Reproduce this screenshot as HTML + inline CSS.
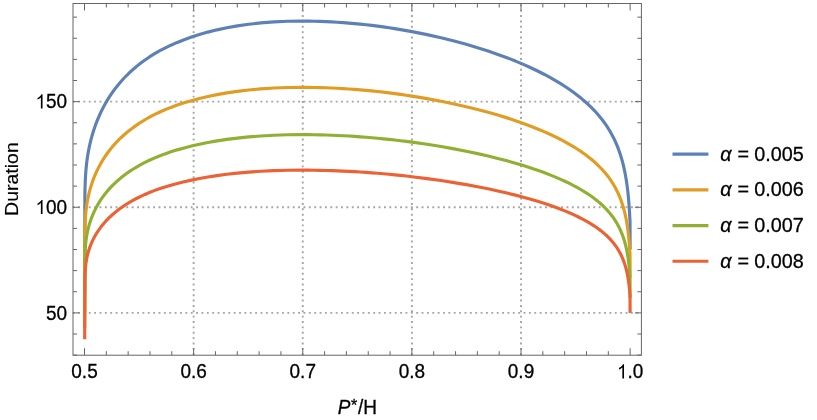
<!DOCTYPE html>
<html><head><meta charset="utf-8"><title>Duration plot</title>
<style>
html,body{margin:0;padding:0;background:#fff;}
body{width:817px;height:420px;overflow:hidden;}
svg{display:block;}
text{font-family:"Liberation Sans",sans-serif;font-size:19px;fill:#000;stroke:#000;stroke-width:0.3px;}
.curves path{fill:none;stroke-width:3.15;stroke-linejoin:round;stroke-linecap:butt;}
</style></head><body>
<svg width="817" height="420" viewBox="0 0 817 420">
<rect width="817" height="420" fill="#fff"/>
<path d="M193.63 355.20 V3.50 M302.76 355.20 V3.50 M411.89 355.20 V3.50 M521.02 355.20 V3.50 M72.65 312.88 H641.40 M72.65 207.25 H641.40 M72.65 101.63 H641.40" stroke="#a5a5a5" stroke-width="1.9" stroke-dasharray="1.9 3.468" fill="none"/>
<g class="curves">
<path d="M84.70 291.75 L84.88 195.21 L84.91 193.67 L84.94 192.16 L84.97 190.69 L85.01 189.25 L85.05 187.84 L85.09 186.46 L85.13 185.10 L85.18 183.76 L85.23 182.44 L85.28 181.14 L85.34 179.85 L85.40 178.58 L85.47 177.32 L85.54 176.06 L85.61 174.81 L85.70 173.56 L85.78 172.32 L85.88 171.07 L85.98 169.82 L86.09 168.56 L86.21 167.30 L86.34 166.03 L86.47 164.74 L86.62 163.45 L86.77 162.13 L86.94 160.80 L87.12 159.44 L87.32 158.07 L87.52 156.67 L87.75 155.24 L87.99 153.79 L88.25 152.30 L88.52 150.79 L88.82 149.24 L89.14 147.65 L89.48 146.03 L89.85 144.37 L90.25 142.67 L90.67 140.92 L91.13 139.13 L91.62 137.30 L92.14 135.42 L92.71 133.50 L93.31 131.52 L93.97 129.50 L94.67 127.42 L95.42 125.30 L96.22 123.12 L97.09 120.89 L98.02 118.60 L99.02 116.27 L100.10 113.87 L101.25 111.43 L102.49 108.93 L103.82 106.38 L105.25 103.77 L106.78 101.12 L108.43 98.41 L110.20 95.66 L112.10 92.86 L114.14 90.02 L116.33 87.14 L118.68 84.22 L121.21 81.26 L123.92 78.27 L126.84 75.26 L129.96 72.23 L133.33 69.18 L136.94 66.12 L140.81 63.06 L144.98 60.00 L149.45 56.95 L154.25 53.93 L159.41 50.96 L164.94 48.05 L170.89 45.20 L177.28 42.42 L184.14 39.71 L191.50 37.07 L199.42 34.52 L207.91 32.10 L217.04 29.84 L226.83 27.76 L237.36 25.90 L248.66 24.28 L260.80 22.94 L273.83 21.93 L287.83 21.30 L302.86 21.10 L308.61 21.14 L314.35 21.24 L320.10 21.40 L325.85 21.62 L331.59 21.90 L337.34 22.23 L343.08 22.62 L348.83 23.07 L354.58 23.58 L360.32 24.14 L366.07 24.76 L371.82 25.43 L377.56 26.16 L383.31 26.93 L389.05 27.76 L394.80 28.65 L400.55 29.59 L406.29 30.58 L412.04 31.63 L427.07 34.64 L441.07 37.79 L454.10 41.03 L466.24 44.34 L477.54 47.68 L488.07 51.03 L497.86 54.39 L506.99 57.74 L515.48 61.09 L523.40 64.42 L530.76 67.73 L537.62 71.00 L544.01 74.23 L549.96 77.42 L555.49 80.57 L560.65 83.68 L565.45 86.74 L569.92 89.77 L574.09 92.75 L577.96 95.69 L581.57 98.59 L584.94 101.46 L588.06 104.29 L590.98 107.08 L593.69 109.83 L596.22 112.55 L598.57 115.24 L600.76 117.90 L602.80 120.52 L604.70 123.11 L606.47 125.67 L608.12 128.21 L609.65 130.71 L611.08 133.18 L612.41 135.63 L613.65 138.05 L614.80 140.44 L615.88 142.81 L616.88 145.14 L617.81 147.45 L618.68 149.74 L619.48 152.00 L620.23 154.23 L620.93 156.43 L621.59 158.61 L622.19 160.76 L622.76 162.88 L623.28 164.98 L623.77 167.05 L624.23 169.09 L624.65 171.11 L625.05 173.09 L625.42 175.05 L625.76 176.97 L626.08 178.87 L626.38 180.74 L626.65 182.57 L626.91 184.38 L627.15 186.15 L627.38 187.90 L627.58 189.61 L627.78 191.28 L627.96 192.93 L628.13 194.53 L628.28 196.11 L628.43 197.64 L628.56 199.15 L628.69 200.61 L628.81 202.04 L628.92 203.43 L629.02 204.78 L629.12 206.09 L629.20 207.36 L629.29 208.59 L629.36 209.78 L629.43 210.93 L629.50 212.03 L629.56 213.09 L629.62 214.11 L629.67 215.08 L629.72 216.00 L629.77 216.88 L629.81 217.72 L629.85 218.50 L629.89 219.23 L629.93 219.92 L629.96 220.56 L629.99 221.14 L630.02 221.68 L630.10 249.50" stroke="#5e81b5"/>
<path d="M84.70 312.88 L84.88 232.42 L84.91 231.14 L84.94 229.89 L84.97 228.66 L85.01 227.46 L85.05 226.29 L85.09 225.13 L85.13 224.00 L85.18 222.88 L85.23 221.79 L85.28 220.70 L85.34 219.63 L85.40 218.57 L85.47 217.51 L85.54 216.47 L85.61 215.42 L85.70 214.39 L85.78 213.35 L85.88 212.31 L85.98 211.27 L86.09 210.22 L86.21 209.17 L86.34 208.11 L86.47 207.04 L86.62 205.95 L86.77 204.86 L86.94 203.75 L87.12 202.62 L87.32 201.47 L87.52 200.31 L87.75 199.12 L87.99 197.91 L88.25 196.67 L88.52 195.41 L88.82 194.11 L89.14 192.79 L89.48 191.44 L89.85 190.06 L90.25 188.64 L90.67 187.18 L91.13 185.70 L91.62 184.17 L92.14 182.60 L92.71 181.00 L93.31 179.35 L93.97 177.67 L94.67 175.94 L95.42 174.16 L96.22 172.35 L97.09 170.49 L98.02 168.59 L99.02 166.64 L100.10 164.65 L101.25 162.61 L102.49 160.53 L103.82 158.40 L105.25 156.23 L106.78 154.02 L108.43 151.76 L110.20 149.47 L112.10 147.13 L114.14 144.77 L116.33 142.36 L118.68 139.93 L121.21 137.47 L123.92 134.98 L126.84 132.47 L129.96 129.94 L133.33 127.40 L136.94 124.85 L140.81 122.30 L144.98 119.75 L149.45 117.21 L154.25 114.69 L159.41 112.22 L164.94 109.79 L170.89 107.41 L177.28 105.10 L184.14 102.84 L191.50 100.65 L199.42 98.52 L207.91 96.50 L217.04 94.61 L226.83 92.88 L237.36 91.33 L248.66 89.98 L260.80 88.86 L273.83 88.02 L287.83 87.50 L302.86 87.33 L308.61 87.37 L314.35 87.45 L320.10 87.59 L325.85 87.77 L331.59 88.00 L337.34 88.28 L343.08 88.60 L348.83 88.98 L354.58 89.40 L360.32 89.87 L366.07 90.38 L371.82 90.94 L377.56 91.55 L383.31 92.19 L389.05 92.89 L394.80 93.63 L400.55 94.41 L406.29 95.24 L412.04 96.11 L427.07 98.62 L441.07 101.24 L454.10 103.94 L466.24 106.70 L477.54 109.48 L488.07 112.28 L497.86 115.07 L506.99 117.87 L515.48 120.66 L523.40 123.44 L530.76 126.19 L537.62 128.92 L544.01 131.61 L549.96 134.27 L555.49 136.89 L560.65 139.48 L565.45 142.04 L569.92 144.56 L574.09 147.04 L577.96 149.49 L581.57 151.91 L584.94 154.30 L588.06 156.66 L590.98 158.98 L593.69 161.28 L596.22 163.54 L598.57 165.78 L600.76 168.00 L602.80 170.18 L604.70 172.34 L606.47 174.48 L608.12 176.59 L609.65 178.67 L611.08 180.74 L612.41 182.78 L613.65 184.79 L614.80 186.78 L615.88 188.75 L616.88 190.70 L617.81 192.63 L618.68 194.53 L619.48 196.41 L620.23 198.27 L620.93 200.11 L621.59 201.92 L622.19 203.72 L622.76 205.49 L623.28 207.23 L623.77 208.96 L624.23 210.66 L624.65 212.34 L625.05 213.99 L625.42 215.62 L625.76 217.23 L626.08 218.81 L626.38 220.36 L626.65 221.90 L626.91 223.40 L627.15 224.88 L627.38 226.33 L627.58 227.76 L627.78 229.15 L627.96 230.52 L628.13 231.86 L628.28 233.17 L628.43 234.45 L628.56 235.71 L628.69 236.93 L628.81 238.12 L628.92 239.27 L629.02 240.40 L629.12 241.49 L629.20 242.55 L629.29 243.58 L629.36 244.57 L629.43 245.52 L629.50 246.44 L629.56 247.33 L629.62 248.17 L629.67 248.98 L629.72 249.75 L629.77 250.49 L629.81 251.18 L629.85 251.83 L629.89 252.45 L629.93 253.02 L629.96 253.55 L629.99 254.03 L630.02 254.48 L630.10 277.67" stroke="#e19c24"/>
<path d="M84.70 327.96 L84.88 259.00 L84.91 257.91 L84.94 256.83 L84.97 255.78 L85.01 254.75 L85.05 253.75 L85.09 252.76 L85.13 251.79 L85.18 250.83 L85.23 249.89 L85.28 248.96 L85.34 248.04 L85.40 247.13 L85.47 246.23 L85.54 245.33 L85.61 244.44 L85.70 243.54 L85.78 242.65 L85.88 241.76 L85.98 240.87 L86.09 239.97 L86.21 239.07 L86.34 238.16 L86.47 237.25 L86.62 236.32 L86.77 235.38 L86.94 234.43 L87.12 233.46 L87.32 232.48 L87.52 231.48 L87.75 230.46 L87.99 229.42 L88.25 228.36 L88.52 227.28 L88.82 226.17 L89.14 225.04 L89.48 223.88 L89.85 222.69 L90.25 221.48 L90.67 220.23 L91.13 218.95 L91.62 217.64 L92.14 216.30 L92.71 214.93 L93.31 213.52 L93.97 212.07 L94.67 210.59 L95.42 209.07 L96.22 207.51 L97.09 205.92 L98.02 204.29 L99.02 202.62 L100.10 200.91 L101.25 199.16 L102.49 197.38 L103.82 195.56 L105.25 193.70 L106.78 191.80 L108.43 189.87 L110.20 187.90 L112.10 185.90 L114.14 183.87 L116.33 181.81 L118.68 179.73 L121.21 177.61 L123.92 175.48 L126.84 173.33 L129.96 171.16 L133.33 168.99 L136.94 166.80 L140.81 164.61 L144.98 162.43 L149.45 160.25 L154.25 158.09 L159.41 155.97 L164.94 153.89 L170.89 151.85 L177.28 149.87 L184.14 147.94 L191.50 146.05 L199.42 144.23 L207.91 142.50 L217.04 140.88 L226.83 139.40 L237.36 138.07 L248.66 136.91 L260.80 135.95 L273.83 135.23 L287.83 134.78 L302.86 134.64 L308.61 134.67 L314.35 134.74 L320.10 134.86 L325.85 135.01 L331.59 135.21 L337.34 135.45 L343.08 135.73 L348.83 136.05 L354.58 136.41 L360.32 136.81 L366.07 137.26 L371.82 137.74 L377.56 138.25 L383.31 138.81 L389.05 139.40 L394.80 140.04 L400.55 140.71 L406.29 141.42 L412.04 142.17 L427.07 144.31 L441.07 146.56 L454.10 148.88 L466.24 151.24 L477.54 153.63 L488.07 156.02 L497.86 158.42 L506.99 160.81 L515.48 163.21 L523.40 165.59 L530.76 167.95 L537.62 170.29 L544.01 172.59 L549.96 174.87 L555.49 177.12 L560.65 179.34 L565.45 181.53 L569.92 183.69 L574.09 185.82 L577.96 187.92 L581.57 190.00 L584.94 192.04 L588.06 194.06 L590.98 196.06 L593.69 198.02 L596.22 199.97 L598.57 201.89 L600.76 203.78 L602.80 205.66 L604.70 207.51 L606.47 209.34 L608.12 211.15 L609.65 212.94 L611.08 214.70 L612.41 216.45 L613.65 218.18 L614.80 219.89 L615.88 221.58 L616.88 223.25 L617.81 224.90 L618.68 226.53 L619.48 228.14 L620.23 229.73 L620.93 231.31 L621.59 232.86 L622.19 234.40 L622.76 235.92 L623.28 237.42 L623.77 238.89 L624.23 240.35 L624.65 241.79 L625.05 243.21 L625.42 244.60 L625.76 245.98 L626.08 247.34 L626.38 248.67 L626.65 249.98 L626.91 251.27 L627.15 252.54 L627.38 253.78 L627.58 255.00 L627.78 256.20 L627.96 257.38 L628.13 258.52 L628.28 259.65 L628.43 260.75 L628.56 261.82 L628.69 262.87 L628.81 263.88 L628.92 264.88 L629.02 265.84 L629.12 266.78 L629.20 267.69 L629.29 268.57 L629.36 269.41 L629.43 270.23 L629.50 271.02 L629.56 271.78 L629.62 272.51 L629.67 273.20 L629.72 273.86 L629.77 274.49 L629.81 275.08 L629.85 275.64 L629.89 276.17 L629.93 276.66 L629.96 277.11 L629.99 277.53 L630.02 277.91 L630.10 297.79" stroke="#8fb032"/>
<path d="M84.70 339.28 L84.88 278.94 L84.91 277.98 L84.94 277.04 L84.97 276.12 L85.01 275.22 L85.05 274.34 L85.09 273.47 L85.13 272.62 L85.18 271.79 L85.23 270.96 L85.28 270.15 L85.34 269.35 L85.40 268.55 L85.47 267.76 L85.54 266.98 L85.61 266.19 L85.70 265.41 L85.78 264.64 L85.88 263.86 L85.98 263.08 L86.09 262.29 L86.21 261.50 L86.34 260.71 L86.47 259.90 L86.62 259.09 L86.77 258.27 L86.94 257.44 L87.12 256.59 L87.32 255.73 L87.52 254.86 L87.75 253.96 L87.99 253.05 L88.25 252.13 L88.52 251.18 L88.82 250.21 L89.14 249.22 L89.48 248.21 L89.85 247.17 L90.25 246.10 L90.67 245.01 L91.13 243.90 L91.62 242.75 L92.14 241.58 L92.71 240.37 L93.31 239.14 L93.97 237.87 L94.67 236.58 L95.42 235.25 L96.22 233.89 L97.09 232.49 L98.02 231.06 L99.02 229.60 L100.10 228.11 L101.25 226.58 L102.49 225.02 L103.82 223.42 L105.25 221.80 L106.78 220.14 L108.43 218.45 L110.20 216.73 L112.10 214.98 L114.14 213.20 L116.33 211.40 L118.68 209.57 L121.21 207.73 L123.92 205.86 L126.84 203.98 L129.96 202.08 L133.33 200.18 L136.94 198.26 L140.81 196.35 L144.98 194.44 L149.45 192.53 L154.25 190.64 L159.41 188.79 L164.94 186.97 L170.89 185.19 L177.28 183.45 L184.14 181.76 L191.50 180.11 L199.42 178.51 L207.91 177.00 L217.04 175.59 L226.83 174.29 L237.36 173.12 L248.66 172.11 L260.80 171.27 L273.83 170.64 L287.83 170.25 L302.86 170.12 L308.61 170.15 L314.35 170.21 L320.10 170.31 L325.85 170.45 L331.59 170.62 L337.34 170.83 L343.08 171.08 L348.83 171.36 L354.58 171.67 L360.32 172.02 L366.07 172.41 L371.82 172.83 L377.56 173.28 L383.31 173.77 L389.05 174.29 L394.80 174.84 L400.55 175.43 L406.29 176.05 L412.04 176.71 L427.07 178.59 L441.07 180.55 L454.10 182.58 L466.24 184.65 L477.54 186.74 L488.07 188.83 L497.86 190.93 L506.99 193.02 L515.48 195.12 L523.40 197.20 L530.76 199.27 L537.62 201.31 L544.01 203.33 L549.96 205.33 L555.49 207.29 L560.65 209.24 L565.45 211.15 L569.92 213.04 L574.09 214.91 L577.96 216.74 L581.57 218.56 L584.94 220.35 L588.06 222.12 L590.98 223.86 L593.69 225.58 L596.22 227.28 L598.57 228.96 L600.76 230.62 L602.80 232.26 L604.70 233.88 L606.47 235.48 L608.12 237.07 L609.65 238.63 L611.08 240.18 L612.41 241.71 L613.65 243.22 L614.80 244.71 L615.88 246.19 L616.88 247.65 L617.81 249.10 L618.68 250.52 L619.48 251.94 L620.23 253.33 L620.93 254.71 L621.59 256.07 L622.19 257.41 L622.76 258.74 L623.28 260.05 L623.77 261.34 L624.23 262.62 L624.65 263.88 L625.05 265.12 L625.42 266.34 L625.76 267.55 L626.08 268.73 L626.38 269.90 L626.65 271.05 L626.91 272.18 L627.15 273.28 L627.38 274.37 L627.58 275.44 L627.78 276.49 L627.96 277.52 L628.13 278.52 L628.28 279.50 L628.43 280.47 L628.56 281.40 L628.69 282.32 L628.81 283.21 L628.92 284.08 L629.02 284.92 L629.12 285.74 L629.20 286.54 L629.29 287.31 L629.36 288.05 L629.43 288.77 L629.50 289.46 L629.56 290.12 L629.62 290.76 L629.67 291.36 L629.72 291.94 L629.77 292.49 L629.81 293.01 L629.85 293.50 L629.89 293.96 L629.93 294.39 L629.96 294.79 L629.99 295.15 L630.02 295.48 L630.10 312.88" stroke="#eb6235"/>
</g>
<rect x="73.00" y="3.50" width="568.40" height="351.70" fill="none" stroke="#666" stroke-width="1"/>
<path d="M84.50 355.20 v-7.00 M84.50 3.50 v7.00 M106.33 355.20 v-4.00 M106.33 3.50 v4.00 M128.15 355.20 v-4.00 M128.15 3.50 v4.00 M149.98 355.20 v-4.00 M149.98 3.50 v4.00 M171.80 355.20 v-4.00 M171.80 3.50 v4.00 M193.63 355.20 v-7.00 M193.63 3.50 v7.00 M215.46 355.20 v-4.00 M215.46 3.50 v4.00 M237.28 355.20 v-4.00 M237.28 3.50 v4.00 M259.11 355.20 v-4.00 M259.11 3.50 v4.00 M280.93 355.20 v-4.00 M280.93 3.50 v4.00 M302.76 355.20 v-7.00 M302.76 3.50 v7.00 M324.59 355.20 v-4.00 M324.59 3.50 v4.00 M346.41 355.20 v-4.00 M346.41 3.50 v4.00 M368.24 355.20 v-4.00 M368.24 3.50 v4.00 M390.06 355.20 v-4.00 M390.06 3.50 v4.00 M411.89 355.20 v-7.00 M411.89 3.50 v7.00 M433.72 355.20 v-4.00 M433.72 3.50 v4.00 M455.54 355.20 v-4.00 M455.54 3.50 v4.00 M477.37 355.20 v-4.00 M477.37 3.50 v4.00 M499.19 355.20 v-4.00 M499.19 3.50 v4.00 M521.02 355.20 v-7.00 M521.02 3.50 v7.00 M542.85 355.20 v-4.00 M542.85 3.50 v4.00 M564.67 355.20 v-4.00 M564.67 3.50 v4.00 M586.50 355.20 v-4.00 M586.50 3.50 v4.00 M608.32 355.20 v-4.00 M608.32 3.50 v4.00 M630.15 355.20 v-7.00 M630.15 3.50 v7.00 M73.00 355.12 h4.00 M641.40 355.12 h-4.00 M73.00 334.00 h4.00 M641.40 334.00 h-4.00 M73.00 312.88 h6.50 M641.40 312.88 h-6.50 M73.00 291.75 h4.00 M641.40 291.75 h-4.00 M73.00 270.62 h4.00 M641.40 270.62 h-4.00 M73.00 249.50 h4.00 M641.40 249.50 h-4.00 M73.00 228.38 h4.00 M641.40 228.38 h-4.00 M73.00 207.25 h6.50 M641.40 207.25 h-6.50 M73.00 186.12 h4.00 M641.40 186.12 h-4.00 M73.00 165.00 h4.00 M641.40 165.00 h-4.00 M73.00 143.88 h4.00 M641.40 143.88 h-4.00 M73.00 122.75 h4.00 M641.40 122.75 h-4.00 M73.00 101.63 h6.50 M641.40 101.63 h-6.50 M73.00 80.50 h4.00 M641.40 80.50 h-4.00 M73.00 59.38 h4.00 M641.40 59.38 h-4.00 M73.00 38.25 h4.00 M641.40 38.25 h-4.00 M73.00 17.13 h4.00 M641.40 17.13 h-4.00" stroke="#666" stroke-width="1" fill="none"/>
<path d="M672.5 154.15 H708.4" stroke="#5e81b5" stroke-width="3.15" fill="none"/>
<path d="M672.5 189.85 H708.4" stroke="#e19c24" stroke-width="3.15" fill="none"/>
<path d="M672.5 225.55 H708.4" stroke="#8fb032" stroke-width="3.15" fill="none"/>
<path d="M672.5 261.25 H708.4" stroke="#eb6235" stroke-width="3.15" fill="none"/>
<g style="opacity:0.999">
<text transform="translate(46.02 319.73) scale(1 1.085)">50</text>
<path transform="translate(35.46 214.10) scale(0.009277 -0.009602)" d="M763 0L583 0L583 1147Q518 1085 412.5 1023Q307 961 223 930L223 1104Q374 1175 487 1276Q600 1377 647 1472L763 1472Z" fill="#000"/><text transform="translate(46.02 214.10) scale(1 1.085)">00</text>
<path transform="translate(35.46 108.48) scale(0.009277 -0.009602)" d="M763 0L583 0L583 1147Q518 1085 412.5 1023Q307 961 223 930L223 1104Q374 1175 487 1276Q600 1377 647 1472L763 1472Z" fill="#000"/><text transform="translate(46.02 108.48) scale(1 1.085)">50</text>
<text transform="translate(71.30 378.45) scale(1 1.085)">0.5</text>
<text transform="translate(180.42 378.45) scale(1 1.085)">0.6</text>
<text transform="translate(289.55 378.45) scale(1 1.085)">0.7</text>
<text transform="translate(398.69 378.45) scale(1 1.085)">0.8</text>
<text transform="translate(507.81 378.45) scale(1 1.085)">0.9</text>
<path transform="translate(616.94 378.45) scale(0.009277 -0.009602)" d="M763 0L583 0L583 1147Q518 1085 412.5 1023Q307 961 223 930L223 1104Q374 1175 487 1276Q600 1377 647 1472L763 1472Z" fill="#000"/><text transform="translate(627.51 378.45) scale(1 1.085)">.0</text>
<text transform="translate(18.1 179.1) rotate(-90) scale(1 0.96)" text-anchor="middle" style="font-size:19.5px;stroke-width:0.2px">Duration</text>
<text transform="translate(357.4 413.8) scale(1 1.07)" text-anchor="middle"><tspan font-style="italic">P</tspan><tspan font-size="16" dx="0.5" dy="-2.7">*</tspan><tspan dx="0.7" dy="2.7">/H</tspan></text>
<text transform="translate(0 160.75) scale(1 1.045)" style="font-size:19.8px"><tspan x="720.3" font-style="italic">α</tspan><tspan x="737.6">=</tspan><tspan x="754.3">0.005</tspan></text>
<text transform="translate(0 196.45) scale(1 1.045)" style="font-size:19.8px"><tspan x="720.3" font-style="italic">α</tspan><tspan x="737.6">=</tspan><tspan x="754.3">0.006</tspan></text>
<text transform="translate(0 232.15) scale(1 1.045)" style="font-size:19.8px"><tspan x="720.3" font-style="italic">α</tspan><tspan x="737.6">=</tspan><tspan x="754.3">0.007</tspan></text>
<text transform="translate(0 267.85) scale(1 1.045)" style="font-size:19.8px"><tspan x="720.3" font-style="italic">α</tspan><tspan x="737.6">=</tspan><tspan x="754.3">0.008</tspan></text>
</g>
</svg>
</body></html>
